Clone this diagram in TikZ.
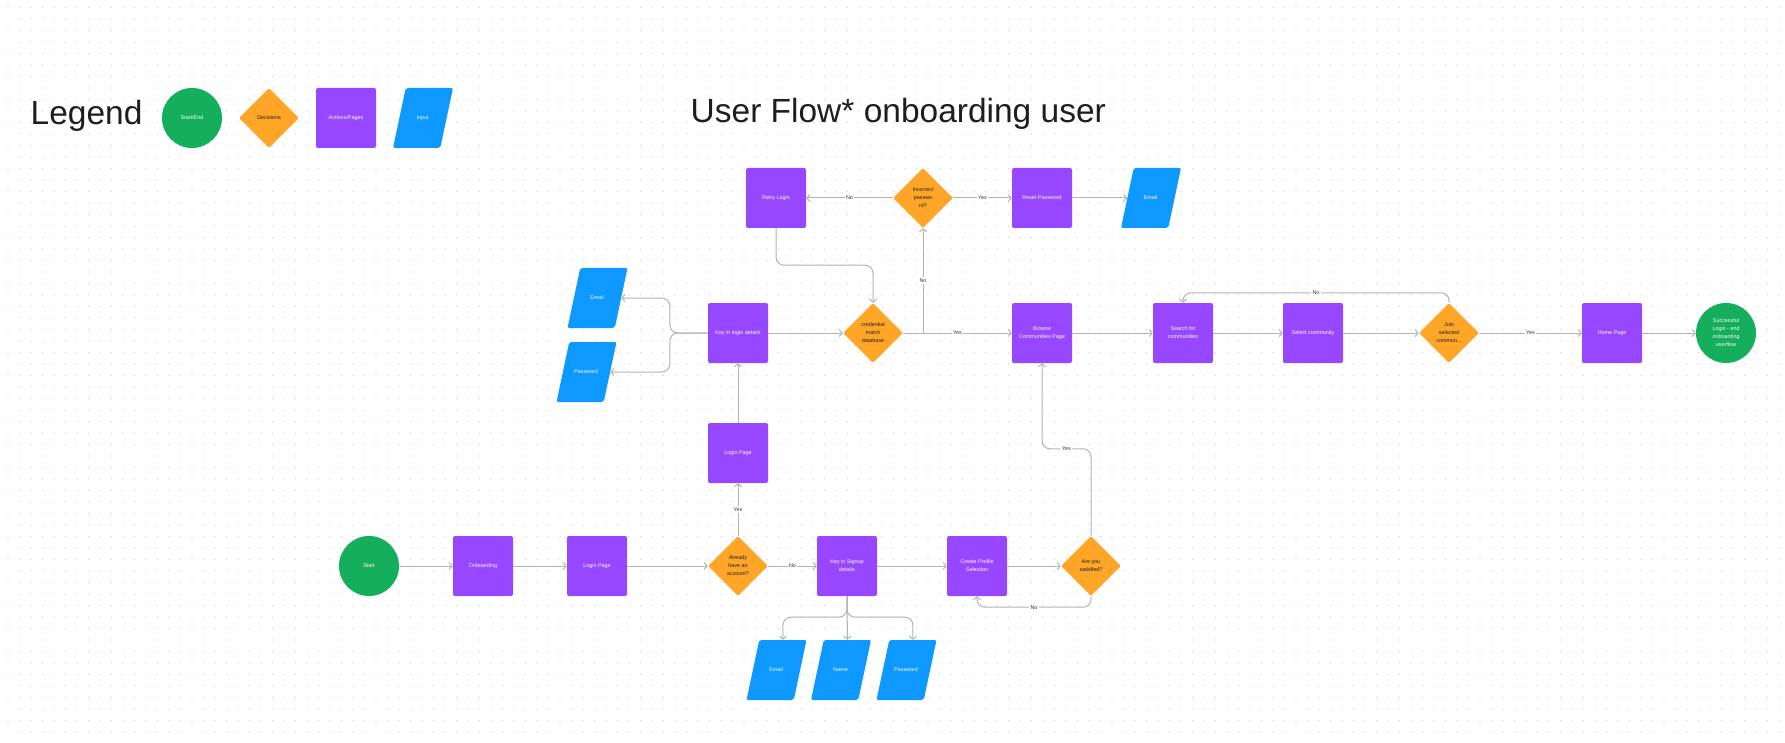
\documentclass[tikz,border=0pt]{standalone}
\usepackage{fontspec}
\setmainfont{Liberation Sans}
\newfontfamily\backslantfont[FakeSlant=-0.2125]{Liberation Sans}
\usetikzlibrary{shapes.geometric}
\usetikzlibrary{arrows.meta}
\usetikzlibrary{positioning}

\definecolor{flowgreen}{HTML}{14AE5C}
\definecolor{floworange}{HTML}{FFA629}
\definecolor{flowpurple}{HTML}{9747FF}
\definecolor{flowblue}{HTML}{0D99FF}
\definecolor{flowline}{HTML}{B3B3B3}
\definecolor{flowdark}{HTML}{1E1E1E}
\definecolor{flowtext}{HTML}{333333}
\definecolor{flowdots}{HTML}{CFCFCF}

\tikzset{
  shapetext/.style={font=\fontsize{5.4}{8}\selectfont, align=center, inner sep=0pt},
  startend/.style={shapetext, circle, fill=flowgreen, text=white, minimum size=60pt},
  decision/.style={shapetext, diamond, fill=floworange, text=flowdark,
    minimum width=60pt, minimum height=60pt, rounded corners=1.5pt},
  action/.style={shapetext, rectangle, fill=flowpurple, text=white,
    minimum size=60pt, rounded corners=2pt},
  inputbox/.style={shapetext, font=\fontsize{5.4}{8}\backslantfont, rectangle, xslant=0.2125,
    fill=flowblue, text=white, minimum width=47.25pt, minimum height=60pt, rounded corners=2pt},
  conn/.style={draw=flowline, line width=1pt, -{Straight Barb[length=3pt,width=7pt]}},
  lbl/.style={font=\fontsize{5.4}{8}\selectfont, fill=white, text=flowtext, inner sep=1.5pt},
  bigtitle/.style={anchor=base west, font=\fontsize{33.5}{40}\selectfont, text=flowdark, inner sep=0pt}
}

\begin{document}
\begin{tikzpicture}[x=1pt, y=-1pt]
\useasboundingbox[fill=white] (0,0) rectangle (1785,743);

% dotted canvas
\foreach \gy in {0,...,63}
  \draw[flowdots, line width=1.4pt, line cap=round, dash pattern=on 0pt off 11.5pt]
    (8,7.5+11.5*\gy) -- (1785,7.5+11.5*\gy);

% legend
\node[bigtitle] (legendtitle) at (30.5,125) {Legend};
\node[startend] (lgstart) at (192,118) {Start/End};
\node[decision] (lgdecision) at (269,118) {Decisions};
\node[action] (lgaction) at (346,118) {Actions/Pages};
\node[inputbox] (lginput) at (423,118) {Input};

\node[bigtitle] (flowtitle) at (690.5,123) {User Flow* onboarding user};

% bottom row
\node[startend] (start) at (369,566) {Start};
\node[action] (onboarding) at (483,566) {Onboarding};
\node[action] (loginpage) at (597,566) {Login Page};
\node[decision] (already) at (738,566) {Already\\have an\\account?};
\node[action] (keysignup) at (847,566) {Key in Signup\\details};
\node[action] (createprofile) at (977,566) {Create Profile\\Selection};
\node[decision] (satisfied) at (1091,566) {Are you\\satisfied?};
\node[inputbox] (email3) at (776.5,670) {Email};
\node[inputbox] (name) at (841,670) {Name};
\node[inputbox] (password3) at (906.5,670) {Password};

% login branch
\node[action] (loginup) at (738,453) {Login Page};
\node[action] (keylogin) at (738,333) {Key in login details};
\node[inputbox] (email1) at (597.5,298) {Email};
\node[inputbox] (password1) at (586.5,372) {Password};
\node[decision] (cred) at (873,333) {credential\\match\\database};
\node[decision] (incorrect) at (923,198) {Incorrect\\passwo\\rd?};
\node[action] (retry) at (776,198) {Retry Login};
\node[action] (resetpw) at (1042,198) {Reset Password};
\node[inputbox] (email2) at (1151,198) {Email};

% communities row
\node[action] (browse) at (1042,333) {Browse\\Communities Page};
\node[action] (search) at (1183,333) {Search for\\communities};
\node[action] (selectcomm) at (1313,333) {Select community};
\node[decision] (join) at (1449,333) {Join\\selected\\commun...};
\node[action] (home) at (1612,333) {Home Page};
\node[startend] (success) at (1726,333) {Successful\\Login - end\\onboarding\\userflow};

\draw[conn] (start) -- (onboarding);
\draw[conn] (onboarding) -- (loginpage);
\draw[conn] (loginpage) -- (already);
\draw[conn] (already) -- node[lbl]{No} (keysignup);
\draw[conn] (already) -- node[lbl]{Yes} (loginup);
\draw[conn] (loginup) -- (keylogin);
\draw[conn] (keysignup) -- (createprofile);
\draw[conn] (createprofile) -- (satisfied);
\draw[conn, rounded corners=8pt] (satisfied.south) -- ++(0,11) -| node[lbl, pos=0.25]{No} (createprofile.south);
\draw[conn, rounded corners=8pt] (satisfied.north) -- ++(0,-87) -| node[lbl, pos=0.25]{Yes} (browse.south);
\draw[conn, rounded corners=8pt] (keysignup.south) -- ++(0,21) -| (email3.north);
\draw[conn] (keysignup.south) -- (name.north);
\draw[conn, rounded corners=8pt] (keysignup.south) -- ++(0,21) -| (password3.north);

\draw[conn, rounded corners=8pt] (keylogin.west) -- ++(-38,0) |- (email1.east);
\draw[conn, rounded corners=8pt] (keylogin.west) -- ++(-38,0) |- (password1.east);
\draw[conn] (keylogin) -- (cred);
\draw[conn] (cred) -- node[lbl]{Yes} (browse);
\coordinate (nobranch) at (cred.east -| incorrect.south);
\draw[conn] (nobranch) -- node[lbl]{No} (incorrect.south);
\draw[conn] (incorrect) -- node[lbl]{No} (retry);
\draw[conn] (incorrect) -- node[lbl]{Yes} (resetpw);
\draw[conn] (resetpw) -- (email2.west);
\draw[conn, rounded corners=8pt] (retry.south) -- ++(0,37) -| (cred.north);

\draw[conn] (browse) -- (search);
\draw[conn] (search) -- (selectcomm);
\draw[conn] (selectcomm) -- (join);
\draw[conn] (join) -- node[lbl]{Yes} (home);
\draw[conn] (home) -- (success);
\draw[conn, rounded corners=8pt] (join.north) -- ++(0,-10) -| node[lbl, pos=0.25]{No} (search.north);
\end{tikzpicture}
\end{document}
